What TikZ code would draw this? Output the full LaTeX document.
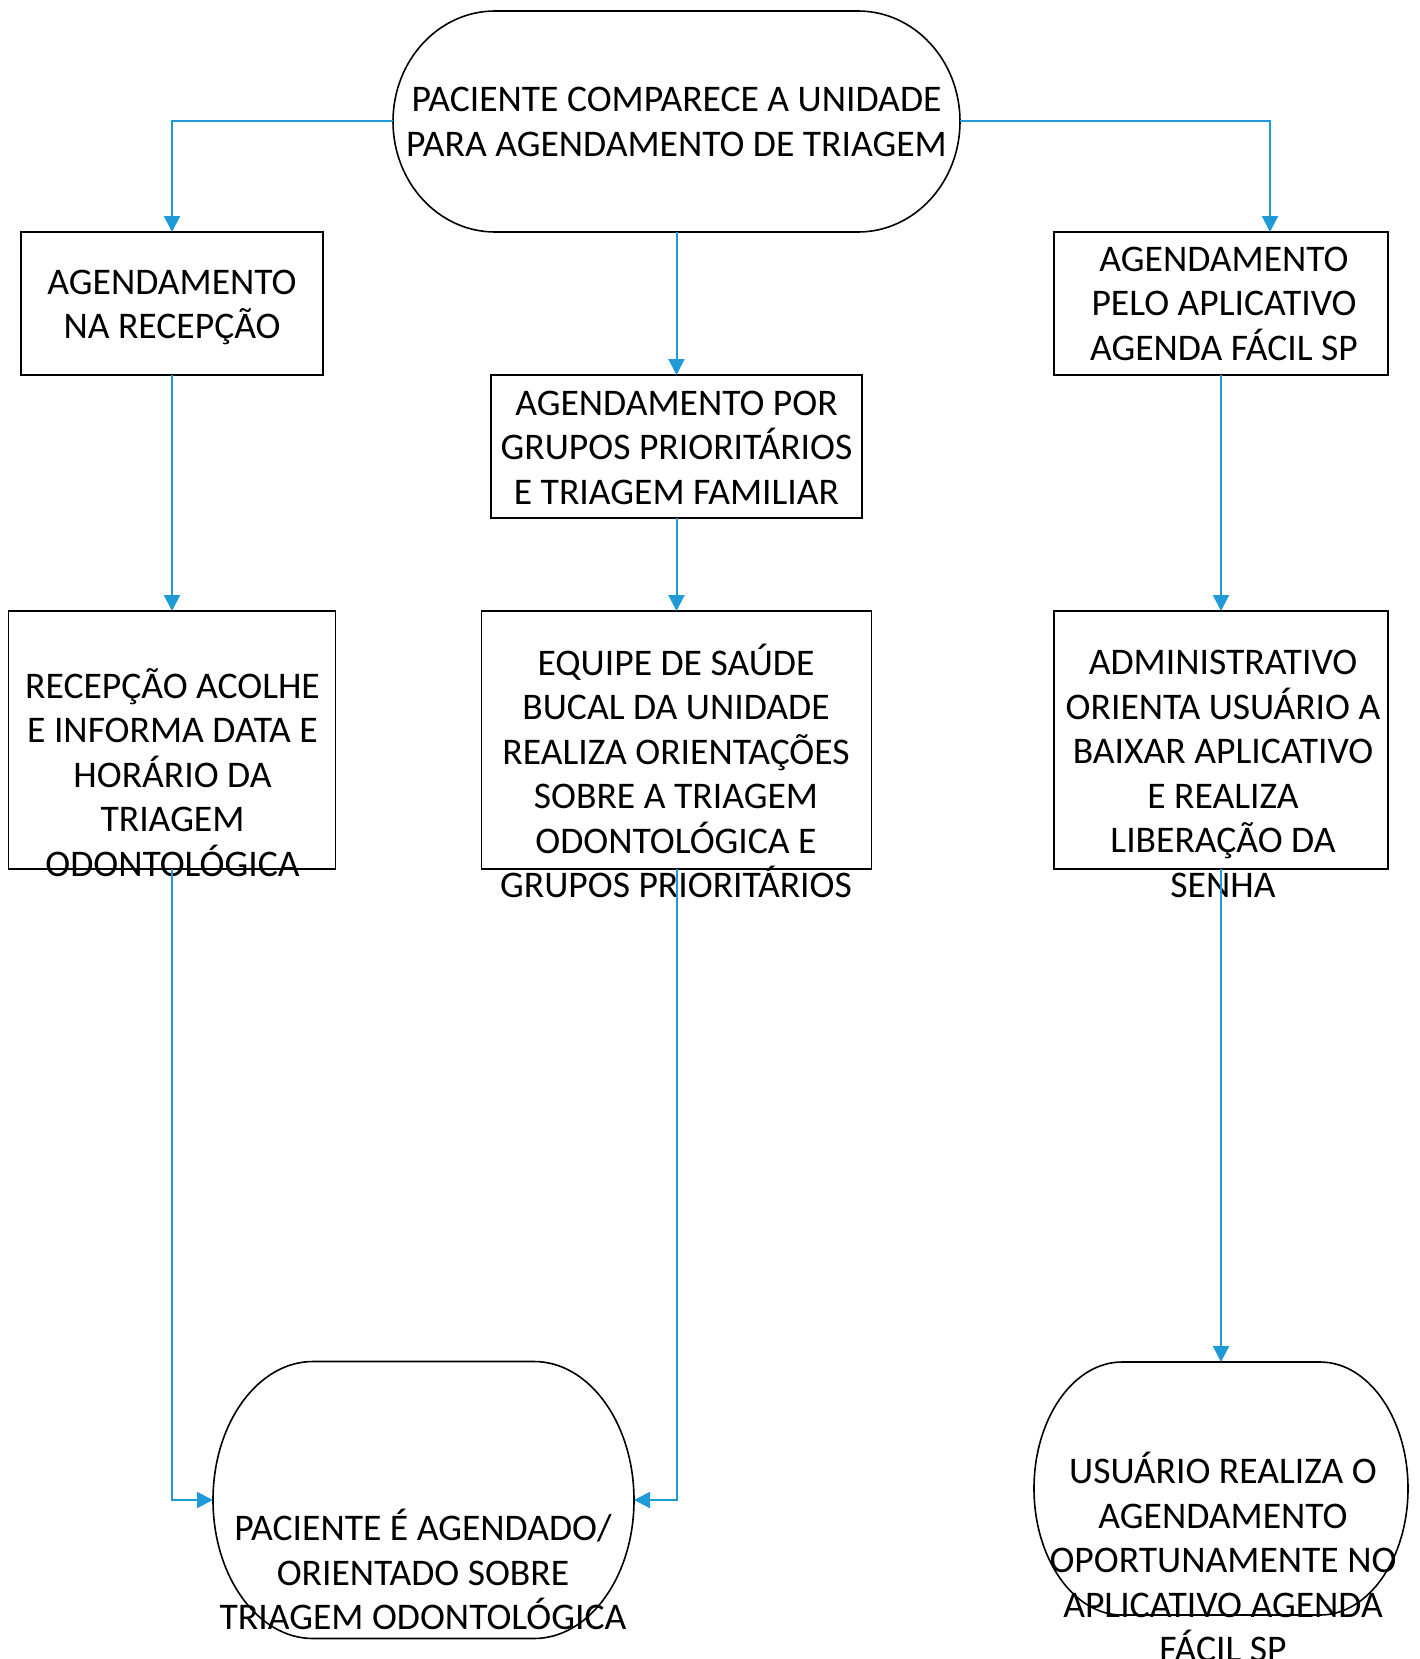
\documentclass[tikz,border=0pt]{standalone}
\usepackage{fontspec}
\setmainfont{Carlito}
\usetikzlibrary{arrows.meta}
\definecolor{conn}{RGB}{30,154,214}
\tikzset{
  shapebox/.style={draw=none,rectangle,inner sep=0pt,outer sep=0pt},
  procbox/.style={draw=black,line width=1.6pt,rectangle,inner sep=0pt,outer sep=0pt},
  txt/.style={align=center,inner sep=0pt,font=\fontsize{37.6}{44.5}\selectfont},
  outline/.style={draw=black,line width=1.6pt},
  link/.style={draw=conn,line width=2pt,-{Triangle[length=16pt,width=16pt]}},
}
\begin{document}
\begin{tikzpicture}[x=1pt,y=-1pt]
\useasboundingbox[fill=white] (0,0) rectangle (1419,1659);
% terminals (frames)
\node[shapebox,minimum width=567pt,minimum height=221pt] (T) at (676.5,121.5) {};
\node[shapebox,minimum width=421pt,minimum height=277pt] (E1) at (423.5,1500) {};
\node[shapebox,minimum width=374pt,minimum height=253pt] (E2) at (1221,1488.5) {};
\draw[outline] ([xshift=102pt]T.north west) -- ([xshift=-102pt]T.north east)
  arc[start angle=90,end angle=-90,x radius=102pt,y radius=110.5pt]
  -- ([xshift=102pt]T.south west)
  arc[start angle=270,end angle=90,x radius=102pt,y radius=110.5pt] -- cycle;
\draw[outline] ([xshift=100pt]E1.north west) -- ([xshift=-100pt]E1.north east)
  arc[start angle=90,end angle=-90,x radius=100pt,y radius=138.5pt]
  -- ([xshift=100pt]E1.south west)
  arc[start angle=270,end angle=90,x radius=100pt,y radius=138.5pt] -- cycle;
\draw[outline] ([xshift=88pt]E2.north west) -- ([xshift=-88pt]E2.north east)
  arc[start angle=90,end angle=-90,x radius=88pt,y radius=126.5pt]
  -- ([xshift=88pt]E2.south west)
  arc[start angle=270,end angle=90,x radius=88pt,y radius=126.5pt] -- cycle;
% process boxes
\node[procbox,minimum width=302pt,minimum height=143pt] (B1) at (172,303.5) {};
\node[procbox,minimum width=371pt,minimum height=143pt] (B2) at (676.5,446.5) {};
\node[procbox,minimum width=334pt,minimum height=143pt] (B3) at (1221,303.5) {};
\node[procbox,minimum width=327pt,minimum height=258pt] (C1) at (172,740) {};
\node[procbox,minimum width=390pt,minimum height=258pt] (C2) at (676.5,740) {};
\node[procbox,minimum width=334pt,minimum height=258pt] (C3) at (1221,740) {};
% texts
\node[txt] (tT) at (676.5,122) {PACIENTE COMPARECE A UNIDADE\\PARA AGENDAMENTO DE TRIAGEM};
\node[txt] (tB1) at (172,307.5) {AGENDAMENTO\\NA RECEPÇÃO};
\node[txt] (tB2) at (676.5,447.5) {AGENDAMENTO POR\\GRUPOS PRIORITÁRIOS\\E TRIAGEM FAMILIAR};
\node[txt] (tB3) at (1224,303.5) {AGENDAMENTO\\PELO APLICATIVO\\AGENDA FÁCIL SP};
\node[txt] (tC1) at (172.5,772.5) {RECEPÇÃO ACOLHE\\E INFORMA DATA E\\HORÁRIO DA\\TRIAGEM\\ODONTOLÓGICA};
\node[txt] (tC2) at (676,771) {EQUIPE DE SAÚDE\\BUCAL DA UNIDADE\\REALIZA ORIENTAÇÕES\\SOBRE A TRIAGEM\\ODONTOLÓGICA E\\GRUPOS PRIORITÁRIOS};
\node[txt] (tC3) at (1223,774) {ADMINISTRATIVO\\ORIENTA USUÁRIO A\\BAIXAR APLICATIVO\\E REALIZA\\LIBERAÇÃO DA\\SENHA};
\node[txt] (tE1) at (423,1569.5) {PACIENTE É AGENDADO/\\ORIENTADO SOBRE\\TRIAGEM ODONTOLÓGICA};
\node[txt] (tE2) at (1223,1557) {USUÁRIO REALIZA O\\AGENDAMENTO\\OPORTUNAMENTE NO\\APLICATIVO AGENDA\\FÁCIL SP};
% connectors
\draw[link] (T.west) -| (B1.north);
\draw[link] (T.east) -| ([xshift=49pt]B3.north);
\draw[link] (T.south) -- (B2.north);
\draw[link] (B1.south) -- (C1.north);
\draw[link] (B2.south) -- (C2.north);
\draw[link] (B3.south) -- (C3.north);
\draw[link] (C1.south) |- (E1.west);
\draw[link] (C2.south) |- (E1.east);
\draw[link] (C3.south) -- (E2.north);
\end{tikzpicture}
\end{document}
